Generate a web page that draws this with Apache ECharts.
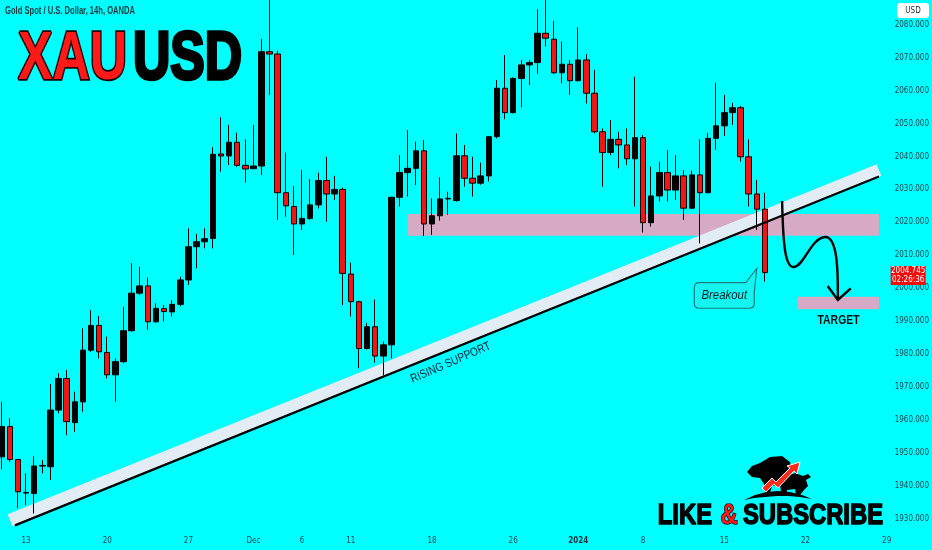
<!DOCTYPE html>
<html><head><meta charset="utf-8">
<script src="https://cdn.jsdelivr.net/npm/echarts@6/dist/echarts.min.js"></script>
<style>html,body{margin:0;padding:0;background:#00ffff}#c{width:932px;height:550px}</style>
</head><body><div id="c"></div>
<script>
// ---- DATA ----
const slotCount = 110; // 14h session slots shown on the time axis (2 per trading day)
const tickIndex = [3, 13, 23, 31, 37, 43, 53, 63, 71, 79, 89, 99, 109];
const tickText  = ['13','20','27','Dec','6','11','18','26','2024','8','15','22','29'];
const priceTicks = [1930,1940,1950,1960,1970,1980,1990,2000,2010,2020,2030,2040,2050,2060,2070,2080];

const open  = [1948.8,1958.0,1948.0,1937.8,1937.7,1946.0,1945.8,1963.0,1972.6,1959.2,1965.5,1981.2,1988.7,1980.5,1973.7,1977.7,1987.1,1998.5,2000.7,1989.8,1993.8,1992.8,1995.1,2002.5,2012.6,2014.1,2015.1,2040.75,2040.15,2044.3,2037.3,2036.3,2037.1,2071.8,2071.1,2029.0,2024.8,2019.5,2021.2,2025.3,2032.7,2028.6,2030.0,2004.3,1995.9,1981.7,1988.3,1979.4,1982.8,2027.6,2035.1,2036.4,2041.7,2019.5,2022.0,2027.1,2026.6,2040.2,2033.4,2031.9,2034.1,2046.0,2060.7,2053.3,2063.7,2067.8,2068.5,2077.4,2075.6,2065.4,2068.0,2063.0,2069.3,2059.2,2047.5,2041.2,2045.2,2043.5,2039.3,2045.7,2019.9,2028.0,2035.1,2029.8,2034.1,2024.3,2034.4,2029.0,2045.5,2049.3,2053.3,2054.8,2039.9,2028.6,2024.0];
const close = [1958.0,1948.0,1938.2,1938.0,1946.0,1946.2,1963.0,1972.6,1959.5,1965.5,1981.2,1988.7,1980.7,1973.7,1977.7,1987.1,1998.5,2000.7,1989.8,1993.9,1992.9,1995.1,2002.5,2012.6,2014.1,2015.05,2040.65,2040.15,2044.3,2037.3,2036.2,2037.1,2071.8,2071.1,2029.0,2025.0,2019.5,2021.2,2025.3,2032.7,2028.6,2030.0,2004.5,1995.9,1981.7,1988.3,1979.4,1982.8,2027.6,2035.1,2036.4,2041.7,2019.5,2022.0,2027.1,2027.3,2040.2,2033.4,2031.9,2034.1,2046.0,2060.7,2053.3,2063.7,2067.8,2068.5,2077.4,2075.9,2065.4,2068.0,2063.0,2069.3,2059.2,2047.5,2041.2,2045.2,2043.5,2039.3,2045.7,2019.9,2028.0,2035.1,2029.8,2034.1,2024.3,2034.4,2029.0,2045.5,2049.3,2053.3,2054.8,2039.9,2028.6,2024.0,2004.745];
const low   = [1945.0,1947.3,1933.2,1934.2,1931.6,1943.8,1941.8,1962.0,1955.4,1956.4,1962.5,1980.7,1978.7,1972.6,1965.5,1977.2,1986.8,1998.0,1987.3,1989.5,1989.9,1991.4,1994.5,2001.0,2006.0,2012.1,2012.1,2035.4,2037.4,2036.9,2032.1,2036.1,2034.4,2058.7,2020.7,2021.7,2010.1,2017.7,2020.7,2024.2,2020.2,2026.8,1994.9,1991.4,1975.7,1981.4,1977.4,1973.6,1978.7,2024.8,2027.8,2031.3,2015.9,2016.2,2020.5,2022.3,2026.3,2030.8,2027.8,2031.4,2032.4,2045.5,2051.3,2053.1,2054.9,2061.7,2065.0,2073.4,2065.0,2062.2,2058.7,2062.7,2056.1,2047.0,2030.8,2040.4,2036.4,2037.4,2024.8,2016.9,2018.7,2026.3,2026.3,2026.8,2020.7,2024.0,2013.6,2028.8,2042.0,2046.2,2049.6,2038.4,2024.8,2017.7,2002.0];
const high  = [1965.5,1960.5,1948.0,1943.8,1949.0,1947.8,1970.9,1974.2,1975.2,1968.6,1987.8,1993.4,1991.6,1985.3,1978.7,1994.4,2007.6,2006.5,2003.3,1995.4,1994.9,1996.4,2003.5,2018.2,2016.5,2018.2,2042.8,2051.9,2049.6,2047.2,2045.2,2049.6,2075.7,2090.0,2072.1,2041.2,2031.0,2035.9,2033.1,2035.1,2039.9,2034.1,2030.5,2007.8,1996.2,1989.5,1996.6,1983.8,2027.8,2040.4,2048.0,2044.5,2045.0,2027.3,2033.7,2029.3,2047.0,2043.5,2039.9,2038.1,2046.2,2063.2,2070.8,2064.0,2069.3,2069.3,2084.7,2090.0,2081.2,2074.9,2069.3,2079.2,2071.1,2066.3,2048.5,2051.1,2047.5,2048.5,2064.2,2046.5,2036.9,2038.4,2042.0,2040.4,2035.9,2035.7,2045.2,2047.2,2062.4,2058.7,2056.3,2055.3,2045.2,2032.9,2029.0];

// drawings, in [slot, price] units
const supportZone = [[50.0, 2022.5], [108.05, 2015.9]];
const targetZone  = [[98.05, 1997.4], [108.05, 1993.6]];
const supportBand = [[1.02, 1929.6], [108.05, 2035.9]];
const supportLine = [[1.63, 1928.0], [108.05, 2033.9]];
const pathCurve = [[96.12,2026.48],[96.25,2013.12],[96.49,2006.13],[97.60,2006.44],[98.83,2006.74],[99.68,2015.24],[101.40,2015.55],[103.11,2015.85],[102.99,2002.49],[102.99,1996.42]];
const arrowHead = [[101.73,2000.67],[102.99,1996.42],[104.58,1999.97]];
const supportLabelAt = [55.3, 1977.4];
const targetLabelAt = [103.07, 1990.1];
const breakoutTipAt = [93.0, 2006.0];
const timerText = '02:26:36';

// ---- BUILD ----
const categories = [];
for (let i = 0; i < slotCount; i++) categories.push(String(i));
const candles = open.map((o, i) => [o, close[i], low[i], high[i]]);
const lastClose = close[close.length - 1];
const narrow = "'Liberation Sans Narrow','DejaVu Sans Condensed','Roboto Condensed','Liberation Sans',sans-serif";
const sans = '"Liberation Sans", Arial, sans-serif';

function renderZones(params, api) {
  const rect = (z) => {
    const a = api.coord(z[0]), b = api.coord(z[1]);
    return {type:'rect', shape:{x:a[0], y:a[1], width:b[0]-a[0], height:b[1]-a[1]}, style:{fill:'#d6aac4'}};
  };
  const b0 = api.coord(supportBand[0]), b1 = api.coord(supportBand[1]);
  return {type:'group', children:[
    rect(supportZone), rect(targetZone),
    {type:'line', shape:{x1:b0[0], y1:b0[1], x2:b1[0], y2:b1[1]}, style:{stroke:'#e1ecf4', lineWidth:12.5}}
  ]};
}

function renderOverlay(params, api) {
  const c = (p) => api.coord(p);
  const l0 = c(supportLine[0]), l1 = c(supportLine[1]);
  const pc = pathCurve.map(c);
  let d = 'M' + pc[0][0] + ' ' + pc[0][1];
  for (let i = 1; i < pc.length; i += 3) {
    d += ' C' + pc[i][0] + ' ' + pc[i][1] + ' ' + pc[i+1][0] + ' ' + pc[i+1][1] + ' ' + pc[i+2][0] + ' ' + pc[i+2][1];
  }
  const ah = arrowHead.map(c);
  const sl = c(supportLabelAt), tl = c(targetLabelAt), bt = c(breakoutTipAt);
  const py = c([0, lastClose])[1];
  const axisX = c([slotCount - 1, lastClose])[0];
  return {type:'group', children:[
    {type:'line', shape:{x1:l0[0], y1:l0[1], x2:l1[0], y2:l1[1]}, style:{stroke:'#000', lineWidth:2.2}},
    {type:'path', shape:{pathData:d}, style:{stroke:'#000', lineWidth:2.4, fill:null}},
    {type:'polyline', shape:{points:ah}, style:{stroke:'#000', lineWidth:2.4, fill:null}},
    {type:'text', x:sl[0], y:sl[1], rotation:0.41, scaleX:0.84,
      style:{text:'RISING SUPPORT', fill:'#141c34', font:'12px ' + sans, align:'center', verticalAlign:'middle'}},
    {type:'text', x:tl[0], y:tl[1], scaleX:0.8,
      style:{text:'TARGET', fill:'#111', font:'bold 13px ' + sans, align:'center', verticalAlign:'middle'}},
    {type:'path', x:bt[0], y:bt[1], shape:{pathData:'M-57.5 14.2 L-11 14.2 L0 0 L-2.5 24 L-2.5 34.8 Q-2.5 39.8 -7.5 39.8 L-57.5 39.8 Q-62.5 39.8 -62.5 34.8 L-62.5 19.2 Q-62.5 14.2 -57.5 14.2 Z'},
      style:{fill:'#14f4f0', stroke:'#1f7c80', lineWidth:1.2}},
    {type:'text', x:bt[0]-32.5, y:bt[1]+27, scaleX:0.95,
      style:{text:'Breakout', fill:'#10222a', font:'italic 12px ' + sans, align:'center', verticalAlign:'middle'}},
    {type:'rect', shape:{x:axisX+4, y:py-6.5, width:35, height:19}, style:{fill:'#f20d0d'}},
    {type:'text', x:axisX+21.5, y:py-1.5, style:{text:lastClose.toFixed(3), fill:'#fff', font:'8px ' + narrow, align:'center', verticalAlign:'middle'}},
    {type:'text', x:axisX+21.5, y:py+7.5, style:{text:timerText, fill:'#fff', font:'8px ' + narrow, align:'center', verticalAlign:'middle'}}
  ]};
}

const pts = (s) => s.trim().split(/\s+/).map(p => p.split(',').map(Number));

const chart = echarts.init(document.getElementById('c'));
chart.setOption({
  backgroundColor: '#00ffff',
  animation: false,
  grid: {left: 1.7, right: 41, top: 0, bottom: 22},
  xAxis: [
    {type:'category', data: categories, boundaryGap:false,
     axisLine:{show:false}, axisTick:{show:false}, splitLine:{show:false},
     axisLabel:{
       interval: (i) => tickIndex.indexOf(i) >= 0,
       formatter: (v, i) => { const k = tickIndex.indexOf(i); const t = k >= 0 ? tickText[k] : ''; return t === '2024' ? '{b|' + t + '}' : t; },
       color:'#1b4452', fontSize:8, fontFamily: narrow, margin:9,
       rich:{b:{fontWeight:'bold', color:'#0f2f3a', fontSize:8, fontFamily: narrow}}
     }},
    {type:'value', min:0, max:slotCount - 1, show:false}
  ],
  yAxis: {type:'value', position:'right', min:1927.2, max:2087.5, scale:true,
    axisLine:{show:false}, axisTick:{show:false}, splitLine:{show:false},
    axisLabel:{customValues: priceTicks, formatter: (v) => v.toFixed(3), color:'#1b4452', fontSize:8, fontFamily: narrow, margin:8}},
  graphic: [
    {type:'text', x:5, y:6.5, scaleX:0.76, style:{text:'Gold Spot / U.S. Dollar, 14h, OANDA', fill:'#153a40', font:'bold 10px ' + sans}},
    {type:'rect', x:897, y:3, shape:{width:32, height:15, r:3}, style:{fill:'#ffffff'}},
    {type:'text', x:913, y:11, style:{text:'USD', fill:'#1a2a36', font:'8px ' + narrow, align:'center', verticalAlign:'middle'}},
    {type:'text', x:18, y:60, scaleX:0.76, style:{text:'XAU', fill:'#ff1a1a', stroke:'#200000', lineWidth:3.5, font:'bold 68px ' + sans, verticalAlign:'middle', align:'left', shadowBlur:10, shadowColor:'#ffffff'}},
    {type:'text', x:242, y:60, scaleX:0.76, style:{text:'USD', fill:'#000', stroke:'#000', lineWidth:3.5, font:'bold 68px ' + sans, verticalAlign:'middle', align:'right', shadowBlur:10, shadowColor:'#ffffff'}},
    // bear & bull logo
    {type:'polygon', shape:{points: pts('747,472 752,466 760,463 770,457 782,456 790,462 792,470 788,480 786,492 781,492 780,484 772,486 770,493 765,493 764,484 760,478 752,477')}, style:{fill:'#000'}},
    {type:'polygon', shape:{points: pts('782,478 795,473 803,476 808,474 811,477 806,480 808,486 804,490 800,495 796,495 795,489 787,490 786,496 782,496')}, style:{fill:'#000'}},
    {type:'polygon', shape:{points: pts('762,488 772,478 776,482 790,468 787,466 800,462 797,474 794,471 778,488 774,484 766,492')}, style:{fill:'#ff2a1a', stroke:'#ffffff', lineWidth:1}},
    {type:'polygon', shape:{points: pts('744,500 755,495 767,492 778,491 790,492 802,495 812,499 800,497 788,496 777,496 765,497 754,498')}, style:{fill:'#000'}},
    {type:'text', x:712, y:516, scaleX:0.82, style:{text:'LIKE', fill:'#000', stroke:'#000', lineWidth:1.5, font:'bold 29px ' + sans, align:'right', verticalAlign:'middle', shadowBlur:8, shadowColor:'#ffffff'}},
    {type:'text', x:729, y:516, scaleX:0.82, style:{text:'&', fill:'#ff1a1a', stroke:'#000', lineWidth:1.5, font:'bold 29px ' + sans, align:'center', verticalAlign:'middle', shadowBlur:8, shadowColor:'#ffffff'}},
    {type:'text', x:883, y:516, scaleX:0.82, style:{text:'SUBSCRIBE', fill:'#000', stroke:'#000', lineWidth:1.5, font:'bold 29px ' + sans, align:'right', verticalAlign:'middle', shadowBlur:8, shadowColor:'#ffffff'}}
  ],
  series: [
    {type:'custom', name:'zones', xAxisIndex:1, yAxisIndex:0, z:1, renderItem: renderZones, data:[[0, 2000]], silent:true},
    {type:'candlestick', name:'XAUUSD', xAxisIndex:0, yAxisIndex:0, z:2, data: candles, barWidth:6,
     itemStyle:{color:'#000000', color0:'#f51414', borderColor:'#000000', borderColor0:'#000000', borderWidth:1}},
    {type:'custom', name:'drawings', xAxisIndex:1, yAxisIndex:0, z:3, renderItem: renderOverlay, data:[[0, 2000]], silent:true}
  ]
});
</script>
</body></html>
